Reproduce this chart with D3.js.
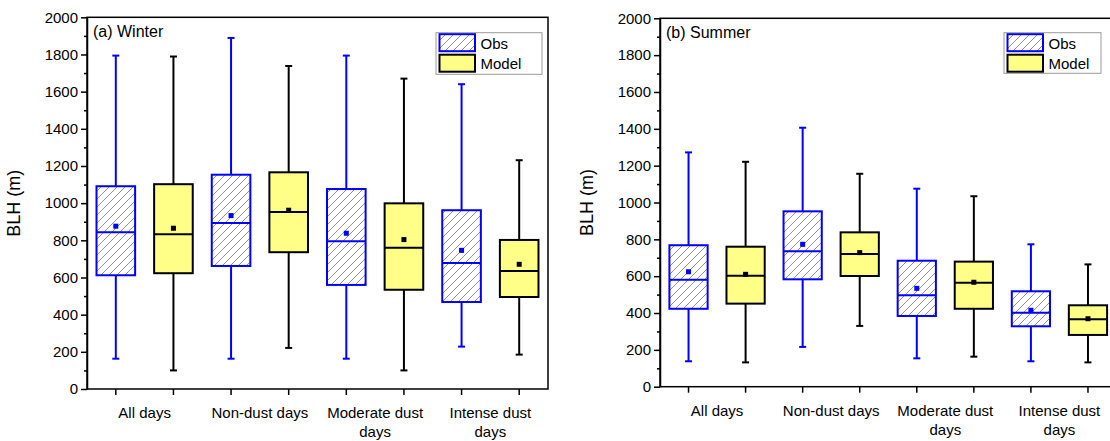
<!DOCTYPE html>
<html>
<head>
<meta charset="utf-8">
<script src="https://cdnjs.cloudflare.com/ajax/libs/d3/7.8.5/d3.min.js"></script>
<style>
  body { margin: 0; background: #fff; }
  svg text { font-family: Arial, "Liberation Sans", sans-serif; }
</style>
</head>
<body>
<div id="chart"></div>
<script>
// categories (two-line labels where the figure wraps them)
const categories = ["All days", "Non-dust days", "Moderate dust days", "Intense dust days"];
const catLines = [["All days"], ["Non-dust days"], ["Moderate dust", "days"], ["Intense dust", "days"]];
const yTicks = [0, 200, 400, 600, 800, 1000, 1200, 1400, 1600, 1800, 2000];
const yMinor = [100, 300, 500, 700, 900, 1100, 1300, 1500, 1700, 1900];

// (a) Winter - Obs
const winterObsMin  = [163, 163, 163, 228];
const winterObsQ1   = [612, 662, 560, 468];
const winterObsMed  = [843, 893, 795, 678];
const winterObsQ3   = [1091, 1153, 1076, 962];
const winterObsMax  = [1794, 1889, 1794, 1640];
const winterObsMean = [876, 933, 838, 746];
// (a) Winter - Model
const winterModMin  = [100, 221, 100, 185];
const winterModQ1   = [623, 736, 534, 495];
const winterModMed  = [833, 953, 760, 635];
const winterModQ3   = [1102, 1166, 999, 802];
const winterModMax  = [1789, 1738, 1670, 1231];
const winterModMean = [865, 962, 804, 671];

// (b) Summer - Obs
const summerObsMin  = [138, 216, 154, 138];
const summerObsQ1   = [423, 583, 384, 328];
const summerObsMed  = [581, 735, 496, 402];
const summerObsQ3   = [768, 952, 684, 518];
const summerObsMax  = [1272, 1406, 1075, 773];
const summerObsMean = [624, 773, 534, 415];
// (b) Summer - Model
const summerModMin  = [132, 330, 163, 132];
const summerModQ1   = [451, 601, 423, 281];
const summerModMed  = [603, 720, 565, 366];
const summerModQ3   = [760, 838, 679, 442];
const summerModMax  = [1221, 1156, 1034, 664];
const summerModMean = [610, 728, 567, 369];

function pack(mn, q1, md, q3, mx, mean) {
  return mn.map((v, i) => ({cat: i, min: v, q1: q1[i], med: md[i], q3: q3[i], max: mx[i], mean: mean[i]}));
}

var width = 1110, height = 441;
var svg = d3.select("#chart").append("svg")
  .attr("width", width).attr("height", height)
  .style("background", "#fff");

// hatch for Obs boxes
var defs = svg.append("defs");
defs.append("pattern")
  .attr("id", "hatch").attr("patternUnits", "userSpaceOnUse")
  .attr("width", 8).attr("height", 8)
  .append("path")
  .attr("d", "M-1,1 l2,-2 M0,8 l8,-8 M7,9 l2,-2")
  .attr("stroke", "#666").attr("stroke-width", 0.7);

const series = ["Obs", "Model"];
const fills = {Obs: "url(#hatch)", Model: "#ffff88"};
const strokes = {Obs: "#0000ff", Model: "#000"};

var panels = [
  {title: "(a) Winter", left: 87, right: 548, top: 17.3, bottom: 389,
   obs: pack(winterObsMin, winterObsQ1, winterObsMed, winterObsQ3, winterObsMax, winterObsMean),
   mod: pack(winterModMin, winterModQ1, winterModMed, winterModQ3, winterModMax, winterModMean),
   legend: {x: 436, y: 32.7, w: 106, h: 41.6}},
  {title: "(b) Summer", left: 660, right: 1116.5, top: 18.3, bottom: 386.7,
   obs: pack(summerObsMin, summerObsQ1, summerObsMed, summerObsQ3, summerObsMax, summerObsMean),
   mod: pack(summerModMin, summerModQ1, summerModMed, summerModQ3, summerModMax, summerModMean),
   legend: {x: 1004, y: 32.7, w: 97, h: 40.6}}
];

panels.forEach(function(p) {
  var g = svg.append("g");

  // 8 slots: Obs/Model for each category
  var slots = d3.range(categories.length * 2);
  var x = d3.scaleBand().domain(slots).range([p.left, p.right]);
  var y = d3.scaleLinear().domain([0, 2000]).range([p.bottom, p.top]);
  var bw = x.bandwidth() * 0.67;
  var cx = i => x(i) + x.bandwidth() / 2;

  // frame (top/right)
  g.append("rect")
    .attr("x", p.left).attr("y", p.top)
    .attr("width", p.right - p.left).attr("height", p.bottom - p.top)
    .attr("fill", "none").attr("stroke", "#000").attr("stroke-width", 1.5);

  // y axis, major + minor
  var ya = g.append("g").attr("transform", "translate(" + p.left + ",0)")
    .call(d3.axisLeft(y).tickValues(yTicks).tickSize(6).tickSizeOuter(0).tickPadding(3).tickFormat(d3.format("d")));
  g.append("g").attr("transform", "translate(" + p.left + ",0)")
    .call(d3.axisLeft(y).tickValues(yMinor).tickSize(3).tickSizeOuter(0).tickFormat(""))
    .select(".domain").remove();

  // x axis ticks
  var xa = g.append("g").attr("transform", "translate(0," + p.bottom + ")")
    .call(d3.axisBottom(x).tickSize(6).tickSizeOuter(0).tickFormat(""));
  xa.select(".domain").remove();

  g.selectAll(".tick line").attr("stroke-width", 1.5);
  g.selectAll(".domain").attr("stroke-width", 1.5);
  ya.selectAll(".tick text").style("font-size", "15px").attr("fill", "#000");

  // category labels
  catLines.forEach(function(lines, ci) {
    var mid = (cx(ci * 2) + cx(ci * 2 + 1)) / 2;
    var t = g.append("text").attr("x", mid).attr("y", p.bottom + 29)
      .attr("text-anchor", "middle").style("font-size", "15px");
    lines.forEach(function(l, li) {
      t.append("tspan").attr("x", mid).attr("dy", li === 0 ? 0 : 19).text(l);
    });
  });

  // y label
  g.append("text")
    .attr("transform", "translate(" + (p.left - 67) + "," + ((p.top + p.bottom) / 2) + ") rotate(-90)")
    .attr("text-anchor", "middle")
    .style("font-size", "18px")
    .text("BLH (m)");

  // title
  g.append("text").attr("x", p.left + 6).attr("y", p.top + 19.5)
    .style("font-size", "16px").text(p.title);

  // boxes
  [["Obs", p.obs, 0], ["Model", p.mod, 1]].forEach(function(s) {
    var name = s[0], data = s[1], off = s[2];
    var col = strokes[name];
    var bg = g.append("g").selectAll("g").data(data).enter().append("g");
    var px = d => cx(d.cat * 2 + off);

    // whiskers
    bg.append("line")
      .attr("x1", px).attr("x2", px)
      .attr("y1", d => y(d.max)).attr("y2", d => y(d.q3))
      .attr("stroke", col).attr("stroke-width", 2);
    bg.append("line")
      .attr("x1", px).attr("x2", px)
      .attr("y1", d => y(d.q1)).attr("y2", d => y(d.min))
      .attr("stroke", col).attr("stroke-width", 2);
    ["max", "min"].forEach(function(k) {
      bg.append("line")
        .attr("x1", d => px(d) - 3.5).attr("x2", d => px(d) + 3.5)
        .attr("y1", d => y(d[k])).attr("y2", d => y(d[k]))
        .attr("stroke", col).attr("stroke-width", 2);
    });
    // box
    bg.append("rect")
      .attr("x", d => px(d) - bw / 2).attr("width", bw)
      .attr("y", d => y(d.q3)).attr("height", d => y(d.q1) - y(d.q3))
      .attr("fill", fills[name]).attr("stroke", col).attr("stroke-width", 2);
    // median
    bg.append("line")
      .attr("x1", d => px(d) - bw / 2).attr("x2", d => px(d) + bw / 2)
      .attr("y1", d => y(d.med)).attr("y2", d => y(d.med))
      .attr("stroke", col).attr("stroke-width", 2);
    // mean
    bg.append("rect")
      .attr("x", d => px(d) - 2.5).attr("y", d => y(d.mean) - 2.5)
      .attr("width", 5).attr("height", 5).attr("fill", col);
  });

  // legend
  var L = p.legend;
  var lg = g.append("g");
  lg.append("rect").attr("x", L.x).attr("y", L.y).attr("width", L.w).attr("height", L.h)
    .attr("fill", "#fff").attr("stroke", "#999").attr("stroke-width", 1);
  series.forEach(function(name, i) {
    var sy = L.y + 1.5 + i * 20.5;
    lg.append("rect").attr("x", L.x + 3.5).attr("y", sy)
      .attr("width", 35.5).attr("height", 17)
      .attr("fill", fills[name]).attr("stroke", strokes[name]).attr("stroke-width", 2);
    lg.append("text").attr("x", L.x + 44.5).attr("y", sy + 14.5)
      .style("font-size", "15px").text(name);
  });
});
</script>
</body>
</html>
